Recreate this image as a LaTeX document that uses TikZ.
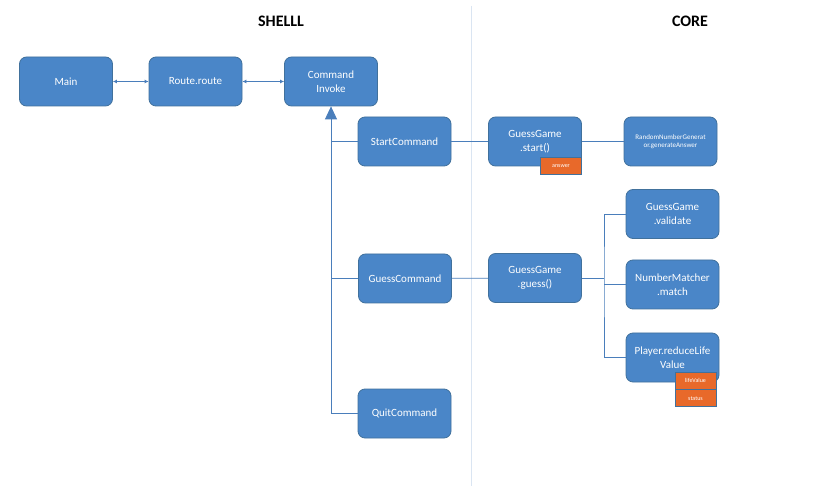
\documentclass[tikz,border=0pt]{standalone}
\usepackage{fontspec}
\setmainfont{Carlito}
\usetikzlibrary{positioning, arrows.meta}

\definecolor{boxblue}{HTML}{4A86C8}
\definecolor{boxedge}{HTML}{41719C}
\definecolor{tagorange}{HTML}{E8692A}
\definecolor{linkblue}{HTML}{4A7EBB}
\definecolor{sepgrey}{HTML}{DAE5F2}

\tikzset{
cls/.style={rectangle, rounded corners=7pt, minimum width=93pt, minimum height=49pt,
fill=boxblue, draw=boxedge, line width=0.8pt, text=white, align=center, inner sep=2pt,
font=\fontsize{11}{14}\selectfont},
tag/.style={rectangle, minimum width=41pt, minimum height=17pt, fill=tagorange,
draw=boxedge, line width=0.8pt, text=white, inner sep=1pt, font=\fontsize{6}{7}\selectfont},
link/.style={draw=linkblue, line width=0.8pt},
title/.style={font=\bfseries\fontsize{16}{18}\selectfont}
}

\begin{document}
\begin{tikzpicture}[x=1pt,y=-1pt]
\useasboundingbox[fill=white] (0,0) rectangle (838,486);

% titles and separator
\node[title] (shell) at (281,21) {SHELLL};
\node[title] (core) at (690,21) {CORE};
\coordinate (septop) at (471,6);
\coordinate (sepbot) at (471,486);
\draw[sepgrey, line width=1pt] (septop) -- (sepbot);

% shell side
\node[cls] (main) at (66,81.5) {Main};
\node[cls] (route) at (195.5,81.5) {Route.route};
\node[cls] (invoke) at (331,81.5) {Command\\Invoke};
\node[cls] (start) at (404.5,141.5) {StartCommand};
\node[cls] (guess) at (405,278.5) {GuessCommand};
\node[cls] (quit) at (404.5,413.5) {QuitCommand};

% core side
\node[cls] (startgame) at (535,141.5) {GuessGame\\.start()};
\node[cls, font=\fontsize{7}{8.5}\selectfont] (random) at (670.5,141.5) {RandomNumberGenerat\\or.generateAnswer};
\node[cls] (guessgame) at (535,278) {GuessGame\\.guess()};
\node[cls] (validate) at (672.5,214) {GuessGame\\.validate};
\node[cls] (match) at (672.5,284.5) {NumberMatcher\\.match};
\node[cls] (player) at (672.5,357.5) {Player.reduceLife\\Value};

% attributes
\node[tag, anchor=east] (answer) at (startgame.south east) {answer};
\node[tag] (life) at (695.5,380.5) {lifeValue};
\node[tag, below=0pt of life] (status) {status};

% connectors
\draw[link, {Latex[length=4pt,width=4pt]}-{Latex[length=4pt,width=4pt]}] (main) -- (route);
\draw[link, {Latex[length=4pt,width=4pt]}-{Latex[length=4pt,width=4pt]}] (route) -- (invoke);
\draw[link, -{Triangle[length=13pt,width=12pt]}] (quit.west) -| (invoke.south);
\draw[link] (start.west) -- (start.west -| invoke.south);
\draw[link] (guess.west) -- (guess.west -| invoke.south);
\draw[link] (start) -- (startgame);
\draw[link] (startgame) -- (random);
\draw[link] (guess) -- (guessgame);
\coordinate (fork) at (604,278);
\draw[link] (guessgame.east) -- (fork);
\draw[link] (validate.west) -| (fork) |- (player.west);
\draw[link] (match.west) -- (match.west -| fork);
\end{tikzpicture}
\end{document}
